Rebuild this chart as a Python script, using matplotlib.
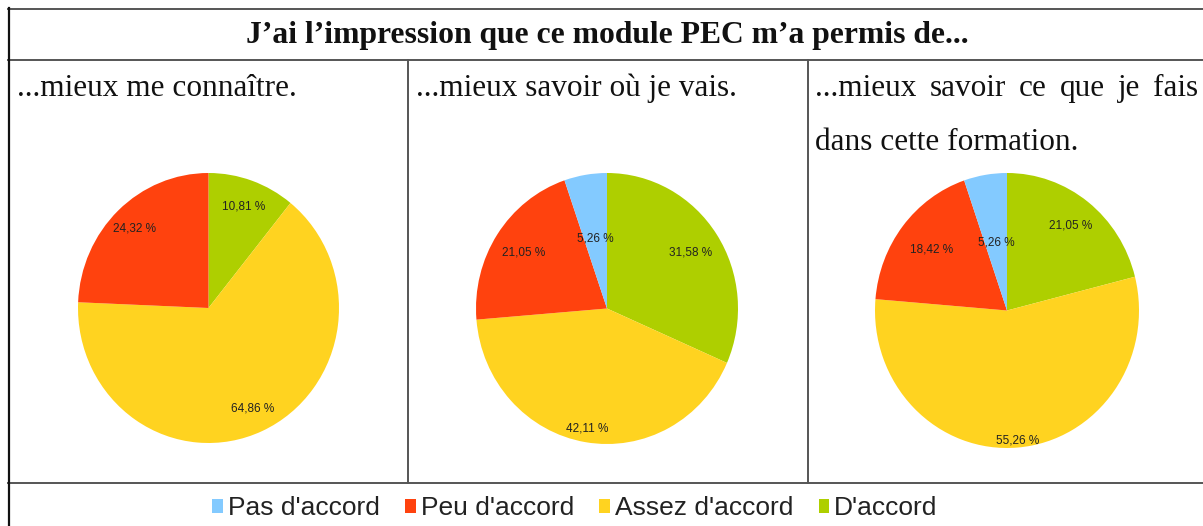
import matplotlib
matplotlib.use("Agg")
import matplotlib.pyplot as plt
import numpy as np
from matplotlib.patches import Patch

W, H = 1203, 526

TITLE = "J’ai l’impression que ce module PEC m’a permis de..."
CATEGORIES = ["Pas d'accord", "Peu d'accord", "Assez d'accord", "D'accord"]
COLORS = ["#83caff", "#ff420e", "#ffd320", "#aecf00"]

HEADERS = ["...mieux me connaître.", "...mieux savoir où je vais.",
           "...mieux savoir ce que je fais\ndans cette formation."]

# percentages per panel, same order as CATEGORIES
PAS = [0.0, 5.26, 5.26]
PEU = [24.32, 21.05, 18.42]
ASSEZ = [64.86, 42.11, 55.26]
DACCORD = [10.81, 31.58, 21.05]

# pie boxes in pixels: centre x, centre y, width, height
PIE_BOX = [(208.5, 308, 261, 270), (607, 308.5, 262, 271), (1007, 310.5, 264, 275)]
# label distances from centre (fraction of radius), clockwise order D'accord, Assez, Peu, Pas
LABEL_DIST = [(0.80, 0.82, 0.82, 0.5), (0.76, 0.90, 0.76, 0.52), (0.78, 0.95, 0.72, 0.50)]

fig = plt.figure(figsize=(W / 100, H / 100), dpi=100)
bg = fig.add_axes([0, 0, 1, 1])
bg.set_xlim(0, W)
bg.set_ylim(H, 0)
bg.axis("off")

# table grid
line_kw = dict(color="#555555", linewidth=1.4)
bg.plot([8, W], [8.5, 8.5], **line_kw)
bg.plot([8, W], [59.5, 59.5], **line_kw)
bg.plot([8, W], [482.5, 482.5], **line_kw)
bg.plot([8.5, 8.5], [8, H], color="#111111", linewidth=1.6)
bg.plot([408, 408], [59.5, 482.5], **line_kw)
bg.plot([808, 808], [59.5, 482.5], **line_kw)

bg.text(607.5, 35, TITLE, ha="center", va="center", fontsize=22.8,
        fontweight="bold", family="Liberation Serif", color="#111111")

hdr_kw = dict(fontsize=22.5, family="Liberation Serif", color="#111111", va="baseline")
bg.text(17, 96, HEADERS[0], **hdr_kw)
bg.text(416, 96, HEADERS[1], **hdr_kw)

# third header: first line justified across the cell
line1, line2 = HEADERS[2].split("\n")
words = line1.split()
fig.canvas.draw()
renderer = fig.canvas.get_renderer()
inv = bg.transData.inverted()
texts = [bg.text(0, 96, w, **hdr_kw) for w in words]
widths = []
for t in texts:
    bb = t.get_window_extent(renderer)
    x0 = inv.transform((bb.x0, 0))[0]
    x1 = inv.transform((bb.x1, 0))[0]
    widths.append(x1 - x0)
left, right = 815, 1198
gap = (right - left - sum(widths)) / (len(words) - 1)
x = left
for t, w in zip(texts, widths):
    t.set_x(x)
    x += w + gap
bg.text(815, 150, line2, **hdr_kw)

for i, (cx, cy, bw, bh) in enumerate(PIE_BOX):
    ax = fig.add_axes([(cx - bw / 2) / W, 1 - (cy + bh / 2) / H, bw / W, bh / H])
    vals = [DACCORD[i], ASSEZ[i], PEU[i], PAS[i]]
    cols = [COLORS[3], COLORS[2], COLORS[1], COLORS[0]]
    keep = [(v, c, d) for v, c, d in zip(vals, cols, LABEL_DIST[i]) if v > 0]
    wedges, _ = ax.pie([k[0] for k in keep], colors=[k[1] for k in keep],
                       startangle=90, counterclock=False, radius=1,
                       wedgeprops=dict(linewidth=0))
    for wd, (v, c, d) in zip(wedges, keep):
        ang = np.deg2rad((wd.theta1 + wd.theta2) / 2)
        ax.text(d * np.cos(ang), d * np.sin(ang), f"{v:.2f} %".replace(".", ","),
                ha="center", va="center", fontsize=8.5, family="Liberation Sans",
                color="#222222")
    ax.set_aspect("auto")
    ax.set_xlim(-1, 1)
    ax.set_ylim(-1, 1)
    ax.axis("off")

handles = [Patch(facecolor=c, edgecolor="none") for c in COLORS]
leg = bg.legend(handles, CATEGORIES, loc="center", bbox_to_anchor=(575 / W, 1 - 508 / H),
                bbox_transform=fig.transFigure, ncol=4, frameon=False,
                handlelength=0.4, handleheight=0.45, handletextpad=0.2,
                columnspacing=0.95, prop=dict(family="Liberation Sans", size=19))
for t in leg.get_texts():
    t.set_color("#222222")

fig.savefig("out.png", dpi=100)
